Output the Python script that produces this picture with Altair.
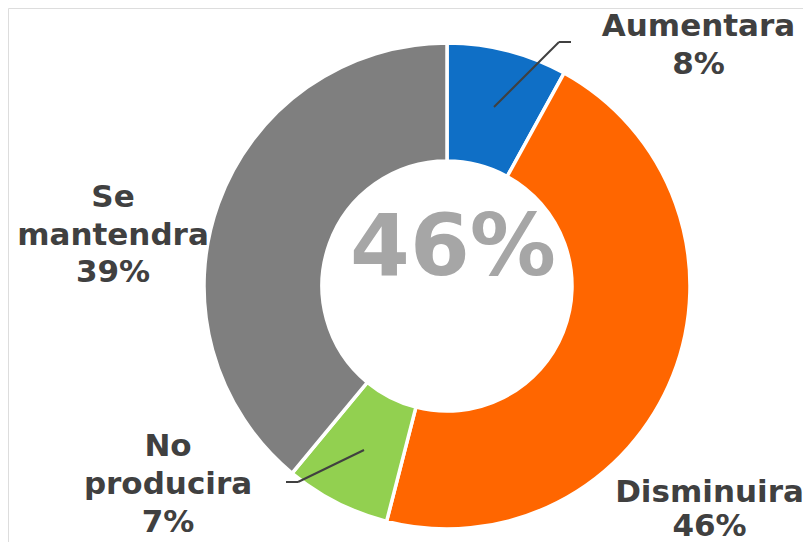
import altair as alt
import pandas as pd

categories = ["Aumentara", "Disminuira", "No producira", "Se mantendra"]
values = [8, 46, 7, 39]
colors = ["#0F6FC6", "#FF6600", "#92D050", "#7F7F7F"]

df = pd.DataFrame({"categoria": categories, "valor": values, "orden": list(range(len(categories)))})

FONT = "DejaVu Sans"
TXT = "#404040"

arcs = alt.Chart(df).mark_arc(
    outerRadius=243, innerRadius=125, stroke="white", strokeWidth=3.5
).encode(
    theta=alt.Theta("valor:Q", stack=True),
    order=alt.Order("orden:Q"),
    color=alt.Color("categoria:N", scale=alt.Scale(domain=categories, range=colors), legend=None),
    x=alt.value(439),
    y=alt.value(278),
)

one = pd.DataFrame({"k": [0]})

def rule(x1, y1, x2, y2):
    return alt.Chart(one).mark_rule(color=TXT, strokeWidth=2).encode(
        x=alt.value(x1), y=alt.value(y1), x2=alt.value(x2), y2=alt.value(y2)
    )

def label(i, x, y, lh):
    lines = categories[i].split(" ") + [f"{values[i]}%"]
    return alt.Chart(one).mark_text(
        text=lines, font=FONT, fontWeight="bold", fontSize=31, color=TXT,
        align="center", baseline="alphabetic", lineHeight=lh
    ).encode(x=alt.value(x), y=alt.value(y))

imax = values.index(max(values))
center = alt.Chart(one).mark_text(
    text=f"{values[imax]}%", font=FONT, fontWeight="bold", fontSize=86, color="#A6A6A6",
    align="center", baseline="alphabetic"
).encode(x=alt.value(445), y=alt.value(267))

layers = [
    arcs,
    rule(486, 99, 551, 34), rule(551, 34, 563, 34),
    rule(356, 442, 290, 474), rule(290, 474, 278, 474),
    label(0, 690.5, 28, 38),
    label(1, 701.5, 494, 34),
    label(2, 160, 448, 38),
    label(3, 105, 199, 37.5),
    center,
]

chart = alt.layer(*layers).properties(
    width=795, height=534, autosize="none", padding=0
).configure_view(stroke=None).configure(background="white")

chart.save("out.html", embed_options={"renderer": "svg", "actions": False})
